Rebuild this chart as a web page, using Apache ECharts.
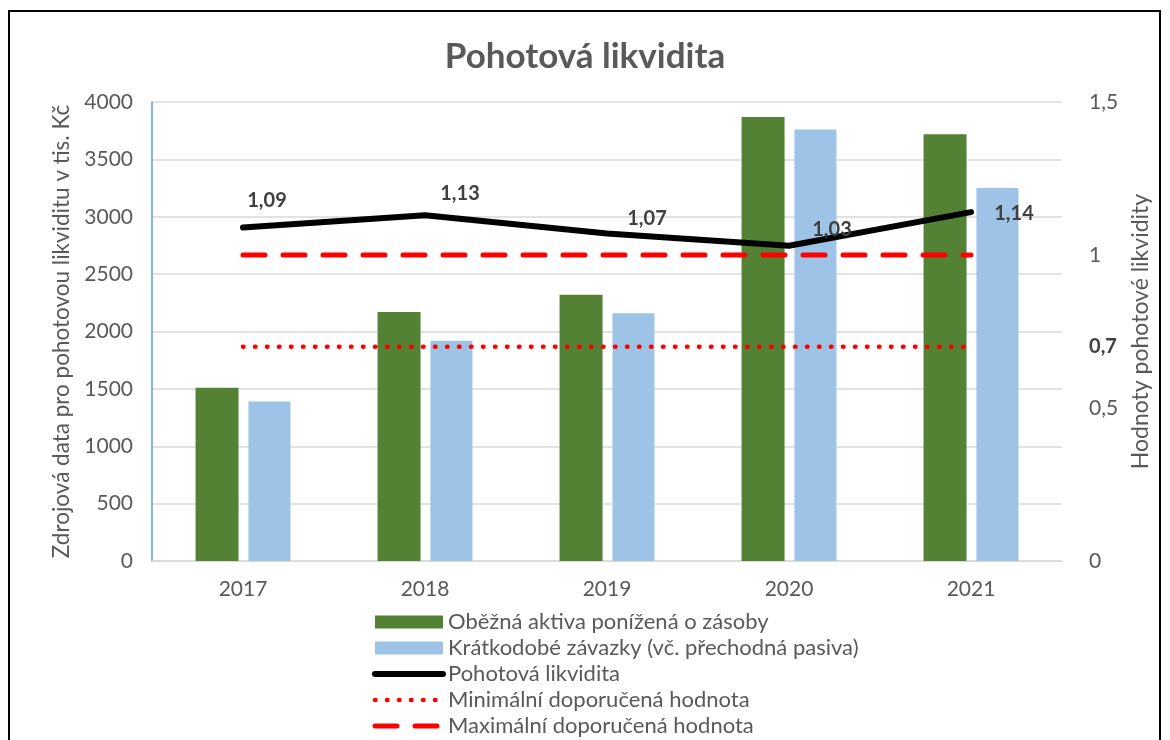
<!DOCTYPE html>
<html>
<head>
<meta charset="utf-8">
<script src="https://cdn.jsdelivr.net/npm/echarts@6/dist/echarts.min.js"></script>
<style>
  html, body { margin: 0; padding: 0; background: #fff; }
  .frame { position: absolute; left: 8px; top: 10px; width: 1153px; height: 760px; border: 2px solid #000; box-sizing: border-box; }
  #chart { position: absolute; left: 0; top: 0; width: 1170px; height: 740px; }
</style>
</head>
<body>
<div class="frame"></div>
<div id="chart"></div>
<script>
var years = ['2017', '2018', '2019', '2020', '2021'];
var obeznaAktiva = [1510, 2170, 2320, 3870, 3720];
var kratkodobeZavazky = [1390, 1920, 2160, 3760, 3250];
var pohotovaLikvidita = [1.09, 1.13, 1.07, 1.03, 1.14];
var minimum = [0.7, 0.7, 0.7, 0.7, 0.7];
var maximum = [1, 1, 1, 1, 1];
var leftTicks = [0, 4000, 500];
var rightTicks = [0, 1.5, 0.5];

var font = 'Lato, "Open Sans", sans-serif';
var grey = '#595959';

// posun popisku od bodu (stred popisku)
var labelOffsets = [[24, -27], [35, -22], [40, -15], [43, -16], [43, 1]];

var cerna = { color: '#000', width: 6, cap: 'round' };
var tecky = { color: '#FF0000', width: 4.5, type: [0.5, 11.5], cap: 'round' };
var carky = { color: '#FF0000', width: 5, type: [22, 18], cap: 'round' };

function carka(v) { return String(v).replace('.', ','); }

var myChart = echarts.init(document.getElementById('chart'));
var option = {
    animation: false,
    textStyle: { fontFamily: font },
    title: {
        text: 'Pohotová likvidita',
        left: 'center',
        top: 34,
        textStyle: { fontFamily: font, fontSize: 35, fontWeight: 'bold', color: grey }
    },
    grid: { left: 152, right: 108, top: 102, bottom: 179 },
    legend: {
        orient: 'vertical',
        left: 367,
        top: 606,
        height: 150,
        itemWidth: 68,
        itemHeight: 13,
        itemGap: 4,
        textStyle: { fontFamily: font, fontSize: 22, lineHeight: 16, color: grey },
        data: [
            { name: 'Oběžná aktiva ponížená o zásoby', icon: 'rect' },
            { name: 'Krátkodobé závazky (vč. přechodná pasiva)', icon: 'rect' },
            { name: 'Pohotová likvidita', itemStyle: { opacity: 0 }, lineStyle: cerna },
            { name: 'Minimální doporučená hodnota', itemStyle: { opacity: 0 }, lineStyle: tecky },
            { name: 'Maximální doporučená hodnota', itemStyle: { opacity: 0 }, lineStyle: carky }
        ]
    },
    xAxis: {
        type: 'category',
        data: years,
        axisLine: { show: true, lineStyle: { color: '#D9D9D9', width: 1.5 } },
        axisTick: { show: false },
        axisLabel: { fontFamily: font, fontSize: 21, color: grey, margin: 18 }
    },
    yAxis: [
        {
            type: 'value',
            min: leftTicks[0],
            max: leftTicks[1],
            interval: leftTicks[2],
            name: 'Zdrojová data pro pohotovou likviditu v tis. Kč',
            nameLocation: 'middle',
            nameRotate: 90,
            nameGap: 72,
            nameTextStyle: { fontFamily: font, fontSize: 22.5, color: grey },
            axisLine: { show: true, lineStyle: { color: '#5B9BD5', width: 1.5 } },
            axisTick: { show: false },
            axisLabel: {
                fontFamily: font, fontSize: 21, color: grey, margin: 19,
                formatter: function (v) { return String(v); }
            },
            splitLine: { lineStyle: { color: '#D9D9D9', width: 1.5 } }
        },
        {
            type: 'value',
            min: rightTicks[0],
            max: rightTicks[1],
            interval: rightTicks[2],
            name: 'Hodnoty pohotové likvidity',
            nameLocation: 'middle',
            nameRotate: 90,
            nameGap: 66,
            nameTextStyle: { fontFamily: font, fontSize: 23, color: grey },
            axisLine: { show: false },
            axisTick: { show: false },
            axisLabel: {
                fontFamily: font, fontSize: 21, color: grey, margin: 27,
                formatter: carka
            },
            splitLine: { show: false }
        }
    ],
    series: [
        {
            name: 'Oběžná aktiva ponížená o zásoby',
            type: 'bar',
            data: obeznaAktiva,
            barWidth: 43,
            barGap: '23%',
            itemStyle: { color: '#548235' }
        },
        {
            name: 'Krátkodobé závazky (vč. přechodná pasiva)',
            type: 'bar',
            data: kratkodobeZavazky,
            barWidth: 42,
            itemStyle: { color: '#9DC3E6' }
        },
        {
            name: 'Maximální doporučená hodnota',
            type: 'line',
            yAxisIndex: 1,
            data: maximum,
            symbol: 'none',
            lineStyle: carky,
            itemStyle: { color: '#FF0000' }
        },
        {
            name: 'Minimální doporučená hodnota',
            type: 'line',
            yAxisIndex: 1,
            data: minimum.map(function (v, i) {
                if (i === minimum.length - 1) {
                    return {
                        value: v,
                        label: {
                            show: true, position: 'inside', offset: [132, 0],
                            fontFamily: font, fontSize: 20, fontWeight: 'bold', color: '#404040',
                            formatter: function (p) { return carka(p.value); }
                        }
                    };
                }
                return v;
            }),
            symbol: 'circle',
            symbolSize: 0.1,
            lineStyle: tecky,
            itemStyle: { color: '#FF0000' }
        },
        {
            name: 'Pohotová likvidita',
            type: 'line',
            yAxisIndex: 1,
            data: pohotovaLikvidita.map(function (v, i) {
                return { value: v, label: { offset: labelOffsets[i] } };
            }),
            symbol: 'circle',
            symbolSize: 0.1,
            z: 5,
            lineStyle: cerna,
            itemStyle: { color: '#000' },
            label: {
                show: true,
                position: 'inside',
                fontFamily: font,
                fontSize: 20,
                fontWeight: 'bold',
                color: '#404040',
                formatter: function (p) { return p.value.toFixed(2).replace('.', ','); }
            }
        }
    ]
};
myChart.setOption(option);
</script>
</body>
</html>
